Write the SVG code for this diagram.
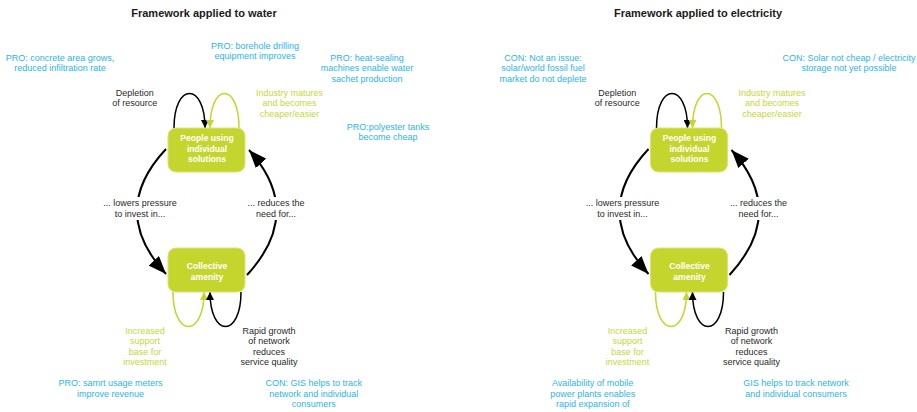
<svg xmlns="http://www.w3.org/2000/svg" width="917" height="412" viewBox="0 0 917 412">
<style>
text{font-family:"Liberation Sans",Arial,sans-serif;font-size:9px;text-anchor:middle}
.title{font-weight:bold;font-size:11px;fill:#1a1a1a}
.k{fill:#2a2a2a}
.g{fill:#c6d63c}
.b{fill:#2db4e8}
.bg{fill:#ffffff}
.node rect{fill:#c4d52e;stroke:#d9e57a;stroke-width:1}
.node text{fill:#ffffff;font-weight:bold;font-size:8.6px}
.big{fill:none;stroke:#000;stroke-width:2}
.lk{fill:none;stroke:#000;stroke-width:1.5}
.lg{fill:none;stroke:#c4d52e;stroke-width:1.5}
</style>
<defs>
<marker id="ab" markerUnits="userSpaceOnUse" markerWidth="18" markerHeight="14" refX="18" refY="7" orient="auto"><path d="M0,0 L18,7 L0,14 z" fill="#000"/></marker>
<marker id="sk" markerUnits="userSpaceOnUse" markerWidth="8" markerHeight="8" refX="8" refY="4" orient="auto"><path d="M0,0 L8,4 L0,8 z" fill="#000"/></marker>
<marker id="sg" markerUnits="userSpaceOnUse" markerWidth="8" markerHeight="8" refX="8" refY="4" orient="auto"><path d="M0,0 L8,4 L0,8 z" fill="#c4d52e"/></marker>
</defs>

<g id="water">
<text class="title" x="204" y="17">Framework applied to water</text>
<g id="water-connectors">
<path class="lk" d="M174,128 C174,82 205,82 205,128" marker-end="url(#sk)"/>
<path class="lg" d="M239,128 C239,82 210,82 210,128" marker-end="url(#sg)"/>
<path class="lg" d="M173,292 C173,338 204,338 204,292" marker-end="url(#sg)"/>
<path class="lk" d="M241,292 C241,338 210,338 210,292" marker-end="url(#sk)"/>
<path class="big" d="M166,149 Q108,211 166,274" marker-end="url(#ab)"/>
<path class="big" d="M247,275 Q305,212 249,150" marker-end="url(#ab)"/>
</g>
<g id="water-people-individual" class="node">
<rect x="168" y="128" width="77" height="44" rx="8"/>
<text x="207" y="141">People using</text>
<text x="207" y="151.5">individual</text>
<text x="207" y="162">solutions</text>
</g>
<g id="water-collective-amenity" class="node">
<rect x="168" y="248" width="77" height="44" rx="8"/>
<text x="207" y="269">Collective</text>
<text x="207" y="279.5">amenity</text>
</g>
<g id="water-labels">
<rect class="bg" x="102" y="197" width="76" height="23"/>
<rect class="bg" x="245" y="197" width="62" height="23"/>
<text class="k" x="134.7" y="95.5">Depletion</text>
<text class="k" x="134.7" y="106">of resource</text>
<text class="g" x="289.5" y="95.5">Industry matures</text>
<text class="g" x="289.5" y="106">and becomes</text>
<text class="g" x="289.5" y="116.5">cheaper/easier</text>
<text class="k" x="140" y="206">... lowers pressure</text>
<text class="k" x="140" y="216.5">to invest in...</text>
<text class="k" x="276" y="206">... reduces the</text>
<text class="k" x="276" y="216.5">need for...</text>
<text class="g" x="145" y="333.5">Increased</text>
<text class="g" x="145" y="344">support</text>
<text class="g" x="145" y="354.5">base for</text>
<text class="g" x="145" y="365">investment</text>
<text class="k" x="269" y="333.5">Rapid growth</text>
<text class="k" x="269" y="344">of network</text>
<text class="k" x="269" y="354.5">reduces</text>
<text class="k" x="269" y="365">service quality</text>
<text class="b" x="60" y="60.5">PRO: concrete area grows,</text>
<text class="b" x="60" y="71">reduced infiltration rate</text>
<text class="b" x="255" y="48.5">PRO: borehole drilling</text>
<text class="b" x="255" y="59">equipment improves</text>
<text class="b" x="367" y="60.5">PRO: heat-sealing</text>
<text class="b" x="367" y="71">machines enable water</text>
<text class="b" x="367" y="81.5">sachet production</text>
<text class="b" x="388" y="129.5">PRO:polyester tanks</text>
<text class="b" x="388" y="140">become cheap</text>
<text class="b" x="110.5" y="386">PRO: samrt usage meters</text>
<text class="b" x="110.5" y="396.5">improve revenue</text>
<text class="b" x="313.7" y="386">CON: GIS helps to track</text>
<text class="b" x="313.7" y="396.5">network and individual</text>
<text class="b" x="313.7" y="407">consumers</text>
</g>
</g>

<g id="electricity">
<text class="title" x="698" y="17">Framework applied to electricity</text>
<g transform="translate(482.5,0)">
<g id="electricity-connectors">
<path class="lk" d="M174,128 C174,82 205,82 205,128" marker-end="url(#sk)"/>
<path class="lg" d="M239,128 C239,82 210,82 210,128" marker-end="url(#sg)"/>
<path class="lg" d="M173,292 C173,338 204,338 204,292" marker-end="url(#sg)"/>
<path class="lk" d="M241,292 C241,338 210,338 210,292" marker-end="url(#sk)"/>
<path class="big" d="M166,149 Q108,211 166,274" marker-end="url(#ab)"/>
<path class="big" d="M247,275 Q305,212 249,150" marker-end="url(#ab)"/>
</g>
<g id="electricity-people-individual" class="node">
<rect x="168" y="128" width="77" height="44" rx="8"/>
<text x="207" y="141">People using</text>
<text x="207" y="151.5">individual</text>
<text x="207" y="162">solutions</text>
</g>
<g id="electricity-collective-amenity" class="node">
<rect x="168" y="248" width="77" height="44" rx="8"/>
<text x="207" y="269">Collective</text>
<text x="207" y="279.5">amenity</text>
</g>
<g id="electricity-loop-labels">
<rect class="bg" x="102" y="197" width="76" height="23"/>
<rect class="bg" x="245" y="197" width="62" height="23"/>
<text class="k" x="134.7" y="95.5">Depletion</text>
<text class="k" x="134.7" y="106">of resource</text>
<text class="g" x="289.5" y="95.5">Industry matures</text>
<text class="g" x="289.5" y="106">and becomes</text>
<text class="g" x="289.5" y="116.5">cheaper/easier</text>
<text class="k" x="140" y="206">... lowers pressure</text>
<text class="k" x="140" y="216.5">to invest in...</text>
<text class="k" x="276" y="206">... reduces the</text>
<text class="k" x="276" y="216.5">need for...</text>
<text class="g" x="145" y="333.5">Increased</text>
<text class="g" x="145" y="344">support</text>
<text class="g" x="145" y="354.5">base for</text>
<text class="g" x="145" y="365">investment</text>
<text class="k" x="269" y="333.5">Rapid growth</text>
<text class="k" x="269" y="344">of network</text>
<text class="k" x="269" y="354.5">reduces</text>
<text class="k" x="269" y="365">service quality</text>
</g>
</g>
<g id="electricity-notes">
<text class="b" x="543" y="60.5">CON: Not an issue:</text>
<text class="b" x="543" y="71">solar/world fossil fuel</text>
<text class="b" x="543" y="81.5">market do not deplete</text>
<text class="b" x="849" y="60.5">CON: Solar not cheap / electricity</text>
<text class="b" x="849" y="71">storage not yet possible</text>
<text class="b" x="592.7" y="386">Availability of mobile</text>
<text class="b" x="592.7" y="396.5">power plants enables</text>
<text class="b" x="592.7" y="407">rapid expansion of</text>
<text class="b" x="796" y="386">GIS helps to track network</text>
<text class="b" x="796" y="396.5">and individual consumers</text>
</g>
</g>
</svg>
